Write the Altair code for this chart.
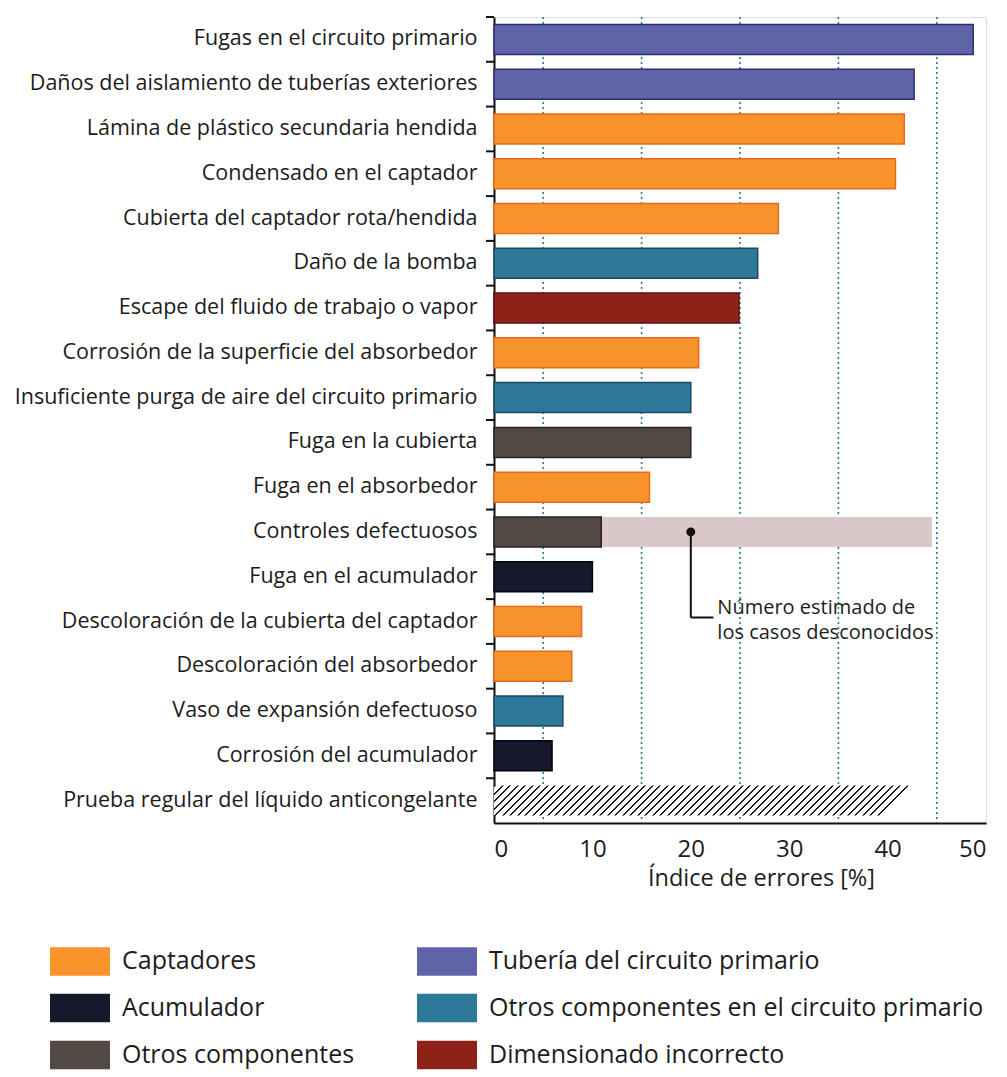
import altair as alt
import pandas as pd

# ---------------- data ----------------
categories = [
    "Fugas en el circuito primario",
    "Daños del aislamiento de tuberías exteriores",
    "Lámina de plástico secundaria hendida",
    "Condensado en el captador",
    "Cubierta del captador rota/hendida",
    "Daño de la bomba",
    "Escape del fluido de trabajo o vapor",
    "Corrosión de la superficie del absorbedor",
    "Insuficiente purga de aire del circuito primario",
    "Fuga en la cubierta",
    "Fuga en el absorbedor",
    "Controles defectuosos",
    "Fuga en el acumulador",
    "Descoloración de la cubierta del captador",
    "Descoloración del absorbedor",
    "Vaso de expansión defectuoso",
    "Corrosión del acumulador",
]
values = [48.7, 42.7, 41.7, 40.8, 28.9, 26.8, 24.9, 20.8, 20.0, 20.0,
          15.8, 10.9, 10.0, 8.9, 7.9, 7.0, 5.9]
groups = [
    "Tubería del circuito primario",
    "Tubería del circuito primario",
    "Captadores",
    "Captadores",
    "Captadores",
    "Otros componentes en el circuito primario",
    "Dimensionado incorrecto",
    "Captadores",
    "Otros componentes en el circuito primario",
    "Otros componentes",
    "Captadores",
    "Otros componentes",
    "Acumulador",
    "Captadores",
    "Captadores",
    "Otros componentes en el circuito primario",
    "Acumulador",
]
hatched_category = "Prueba regular del líquido anticongelante"
hatched_value = 42.1

unknown_category = "Controles defectuosos"
unknown_start = 10.9
unknown_end = 44.5

# legend fills column by column
legend_order = [
    "Captadores",
    "Acumulador",
    "Otros componentes",
    "Tubería del circuito primario",
    "Otros componentes en el circuito primario",
    "Dimensionado incorrecto",
]
fill_colors = ["#F8922B", "#17182B", "#524844", "#5F63A8", "#2E7898", "#8E2219"]
stroke_colors = ["#E86A1E", "#050510", "#2A2220", "#2C2F6E", "#1B4A66", "#5E1010"]

grid_values = [5, 15, 25, 35, 45]
x_ticks = [0, 10, 20, 30, 40, 50]

annot_x = 20.0
annot_row = "Descoloración de la cubierta del captador"
annot_x_end = 22.3
annot_text_x = 22.7
annot_text = "Número estimado de\nlos casos desconocidos"

all_categories = categories + [hatched_category]

# ---------------- tables ----------------
bars_df = pd.DataFrame({"cat": categories, "x": values, "group": groups})
hatch_df = pd.DataFrame({"cat": [hatched_category], "x": [hatched_value]})
unknown_df = pd.DataFrame({"cat": [unknown_category], "x": [unknown_start], "x2": [unknown_end]})
grid_df = pd.DataFrame({"x": grid_values})
ticks_df = pd.DataFrame({"cat": all_categories})
dot_df = pd.DataFrame({"cat": [unknown_category], "x": [annot_x]})
vline_df = pd.DataFrame({"cat": [unknown_category], "cat2": [annot_row], "x": [annot_x]})
hline_df = pd.DataFrame({"cat": [annot_row], "x": [annot_x], "x2": [annot_x_end]})
text_df = pd.DataFrame({"cat": [annot_row], "x": [annot_text_x], "t": [annot_text]})

FONT = "Open Sans"
TXT = "#1c1c1c"
W, H = 492, 806
BAR = 30

xscale = alt.Scale(domain=[0, 50], nice=False, zero=True)
yscale = alt.Scale(domain=all_categories, paddingInner=0, paddingOuter=0)

xaxis = alt.Axis(values=x_ticks, ticks=False, grid=False, domain=True,
                 domainColor="#111111", domainWidth=2,
                 labelFontSize=24, labelFont=FONT, labelColor=TXT,
                 labelPadding=14, title="Índice de errores [%]",
                 titleFontSize=23.5, titleFont=FONT, titleFontWeight="normal",
                 titleColor=TXT, titlePadding=5, titleX=267)
yaxis = alt.Axis(ticks=False, grid=False, domain=True, domainColor="#111111",
                 domainWidth=2, labelFontSize=21.5, labelFont=FONT,
                 labelColor=TXT, labelPadding=17, labelLimit=700, title=None)

X = alt.X("x:Q", scale=xscale, axis=xaxis)
Y = alt.Y("cat:N", scale=yscale, axis=yaxis, sort=all_categories)

# hatch pattern via hard-stop gradient
bar_px = hatched_value / 50 * W
ratio = BAR / bar_px
period = 7.5 / (bar_px * (1 + ratio * ratio))
stops = []
k = 0
while k * period < 1.0:
    s = k * period
    e = min(s + 0.30 * period, 1.0)
    stops += [alt.GradientStop(color="#ffffff", offset=s),
              alt.GradientStop(color="#1a1a1a", offset=s),
              alt.GradientStop(color="#1a1a1a", offset=e),
              alt.GradientStop(color="#ffffff", offset=e)]
    k += 1
hatch_fill = alt.LinearGradient(gradient="linear", stops=stops,
                                x1=0, y1=0, x2=1, y2=ratio)

grid = alt.Chart(grid_df).mark_rule(color="#2A7E94", strokeWidth=1.6,
                                    strokeDash=[2, 3]).encode(x=X)

unknown = alt.Chart(unknown_df).mark_bar(size=BAR, color="#DAC7CA").encode(
    x=X, x2="x2:Q", y=Y)

bars = alt.Chart(bars_df).mark_bar(size=BAR, strokeWidth=1.5).encode(
    x=X, y=Y,
    color=alt.Color("group:N", scale=alt.Scale(domain=legend_order, range=fill_colors),
                    legend=alt.Legend(
                        title=None, orient="none", columns=2,
                        legendX=-429, legendY=929,
                        symbolType="M-2,-0.95H2V0.95H-2Z", symbolSize=900,
                        symbolStrokeWidth=0, symbolOpacity=1,
                        labelFont=FONT, labelFontSize=25, labelColor=TXT,
                        labelOffset=27, rowPadding=17, columnPadding=62,
                        labelLimit=700, padding=0)),
    stroke=alt.Stroke("group:N", scale=alt.Scale(domain=legend_order, range=stroke_colors),
                      legend=None),
)

hatch = alt.Chart(hatch_df).mark_bar(size=BAR, fill=hatch_fill).encode(x=X, y=Y)

tick_marks = alt.Chart(ticks_df).mark_rule(color="#111111", strokeWidth=2).encode(
    y=alt.Y("cat:N", scale=yscale, axis=yaxis, sort=all_categories, bandPosition=0),
    x=alt.value(-8), x2=alt.value(0))

dot = alt.Chart(dot_df).mark_circle(size=80, color="#111111", opacity=1).encode(x=X, y=Y)

vline = alt.Chart(vline_df).mark_rule(color="#111111", strokeWidth=2, y2Offset=-4).encode(
    x=X, y=Y, y2="cat2:N")

hline = alt.Chart(hline_df).mark_rule(color="#111111", strokeWidth=2, yOffset=-4).encode(
    x=X, x2="x2:Q", y=Y)

label = alt.Chart(text_df).mark_text(align="left", baseline="middle", font=FONT,
                                     fontSize=20, lineBreak="\n", lineHeight=25,
                                     color=TXT, dy=-14).encode(
    x=X, y=Y, text="t:N")

chart = alt.layer(grid, unknown, bars, hatch, tick_marks, vline, hline, dot, label).properties(
    width=W, height=H,
    autosize=alt.AutoSizeParams(type="none"),
    padding={"left": 486, "top": 9, "right": 13, "bottom": 252},
).configure_view(stroke=None).configure(background="white")

chart.save("out.html", embed_options={"renderer": "svg", "actions": False})
